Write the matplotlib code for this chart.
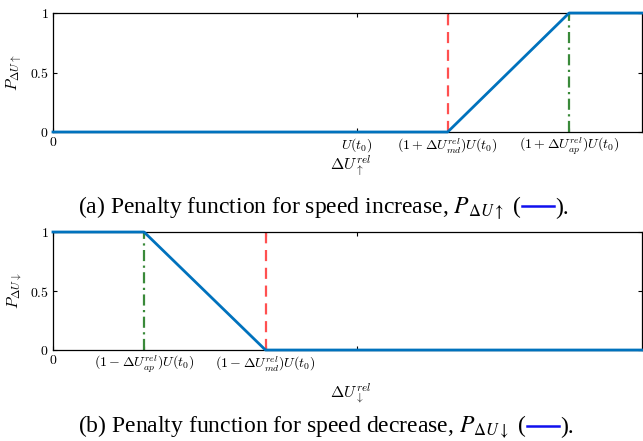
import matplotlib
matplotlib.use("Agg")
import matplotlib.pyplot as plt
from matplotlib.lines import Line2D

# relative thresholds (U(t0) = 1)
U0 = 1.0
d_md = 0.3
d_ap = 0.7

x_up = [0, U0 + d_md, U0 + d_ap, 2.0]
p_up = [0, 0, 1, 1]
x_down = [0, U0 - d_ap, U0 - d_md, 2.0]
p_down = [1, 1, 0, 0]

ticks_up = [0, U0, U0 + d_md, U0 + d_ap]
labels_up = ["$0$", "$U(t_0)$", r"$(1+\Delta U^{rel}_{md})U(t_0)$", r"$(1+\Delta U^{rel}_{ap})U(t_0)$"]
ticks_down = [0, U0 - d_ap, U0 - d_md, U0]
labels_down = ["$0$", r"$(1-\Delta U^{rel}_{ap})U(t_0)$", r"$(1-\Delta U^{rel}_{md})U(t_0)$", ""]

plt.rcParams["mathtext.fontset"] = "cm"
plt.rcParams["font.family"] = "serif"
plt.rcParams["font.serif"] = ["Liberation Serif", "DejaVu Serif"]

BLUE = "#0072BD"
RED = "#FF5050"
GREEN = "#3A8A3A"

fig = plt.figure(figsize=(6.43, 4.41), dpi=100)
ax1 = fig.add_axes([0.0824, 0.7007, 0.916, 0.2698])
ax2 = fig.add_axes([0.0824, 0.2063, 0.916, 0.2676])


def style(ax, ticks, labels, xlab, ylab):
    ax.set_xlim(0, 1.94)
    ax.set_ylim(0, 1)
    ax.set_xticks(ticks)
    ax.set_xticklabels(labels, fontsize=10)
    ax.set_yticks([0, 0.5, 1])
    ax.set_yticklabels(["$0$", "$0.5$", "$1$"], fontsize=10)
    ax.tick_params(direction="in", length=3, width=0.8, top=True, right=True, pad=3)
    for s in ax.spines.values():
        s.set_linewidth(0.9)
    ax.set_xlabel(xlab, fontsize=11.5, labelpad=2)
    ax.set_ylabel(ylab, fontsize=11.5, labelpad=4)


ax1.plot([U0 + d_md] * 2, [0, 1], color=RED, lw=1.6, ls=(0, (5, 3)))
ax1.plot([U0 + d_ap] * 2, [0, 1], color=GREEN, lw=1.6, ls=(0, (5, 2, 1, 2)))
ax1.plot(x_up, p_up, color=BLUE, lw=2, clip_on=False, zorder=3)
style(ax1, ticks_up, labels_up, r"$\Delta U^{rel}_{\uparrow}$", r"$P_{\Delta U\uparrow}$")

ax2.plot([U0 - d_ap] * 2, [0, 1], color=GREEN, lw=1.6, ls=(0, (5, 2, 1, 2)))
ax2.plot([U0 - d_md] * 2, [0, 1], color=RED, lw=1.6, ls=(0, (5, 3)))
ax2.plot(x_down, p_down, color=BLUE, lw=2, clip_on=False, zorder=3)
style(ax2, ticks_down, labels_down, r"$\Delta U^{rel}_{\downarrow}$", r"$P_{\Delta U\downarrow}$")

ax1.xaxis.set_label_coords(0.505, -0.18)
ax2.xaxis.set_label_coords(0.505, -0.27)


def caption(y, text, x0):
    t1 = fig.text(x0, y, text + " (", fontsize=17, va="center", ha="left",
                  math_fontfamily="stix")
    fig.canvas.draw()
    bb = t1.get_window_extent().transformed(fig.transFigure.inverted())
    lx0 = bb.x1 + 0.001
    lx1 = lx0 + 0.05
    fig.add_artist(Line2D([lx0, lx1], [y + 0.004, y + 0.004], color="#1010EE", lw=1.8,
                          transform=fig.transFigure))
    fig.text(lx1 + 0.002, y, ").", fontsize=17, va="center", ha="left")


caption(0.528, r"(a) Penalty function for speed increase, $P_{\Delta U\uparrow}$", 0.121)
caption(0.03, r"(b) Penalty function for speed decrease, $P_{\Delta U\downarrow}$", 0.121)

fig.savefig("out.png", dpi=100)
